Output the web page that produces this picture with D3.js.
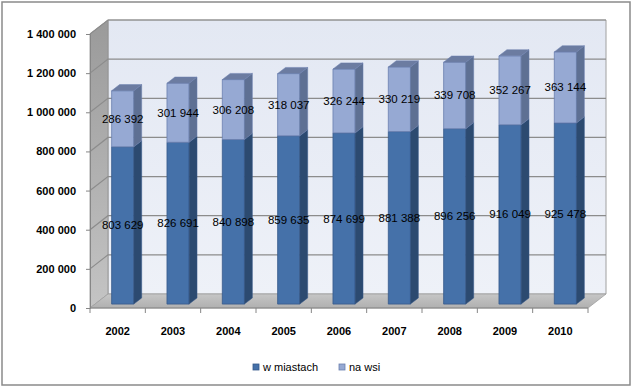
<!DOCTYPE html>
<html><head><meta charset="utf-8">
<script src="https://cdn.jsdelivr.net/npm/d3@7"></script>
<style>body{margin:0;background:#fff}svg{display:block}</style>
</head><body>
<svg id="c" width="633" height="389"></svg>
<script>
const years = ["2002","2003","2004","2005","2006","2007","2008","2009","2010"];
const miasto = [803629,826691,840898,859635,874699,881388,896256,916049,925478];
const wies = [286392,301944,306208,318037,326244,330219,339708,352267,363144];
const yTicks = [0,200000,400000,600000,800000,1000000,1200000,1400000];
const seriesNames = ["w miastach","na wsi"];

const svg = d3.select("#c");
const fmt = v => d3.format(",")(v).replace(/,/g, "\u00a0");
const font = "'Liberation Sans', Arial, sans-serif";

// frame
svg.append("rect").attr("x",2).attr("y",2).attr("width",628).attr("height",383)
  .attr("fill","#fff").attr("stroke","#8a8a8a").attr("stroke-width",1.5);

const x0 = 90, x1 = 588;
const DX = 18, DY = -14;
const x = d3.scaleBand().domain(years).range([x0, x1]).padding(0);
const y = d3.scaleLinear().domain([0,1400000]).range([308,34]);
const P = (sx, v, z) => [sx + z*DX, y(v) + z*DY];

const defs = svg.append("defs");
const lg = (id, c1, c2, x2, y2) => {
  const g = defs.append("linearGradient").attr("id", id).attr("x1",0).attr("y1",0).attr("x2",x2).attr("y2",y2);
  g.append("stop").attr("offset","0%").attr("stop-color",c1);
  g.append("stop").attr("offset","100%").attr("stop-color",c2);
};
lg("gWall","#e3e8f3","#eef1f8",0,1);
lg("gLeft","#9a9a9a","#c4c4c4",0,1);
lg("gFloor","#c6c6c6","#b0b0b0",0,1);

const poly = pts => "M" + pts.map(p => p.join(",")).join("L") + "Z";
const yTop = 1400000;

// back wall
svg.append("path").attr("d", poly([P(x0,0,1),P(x1,0,1),P(x1,yTop,1),P(x0,yTop,1)]))
  .attr("fill","url(#gWall)").attr("stroke","#a0a0a0").attr("stroke-width",1);
// left wall
svg.append("path").attr("d", poly([P(x0,0,0),P(x0,0,1),P(x0,yTop,1),P(x0,yTop,0)]))
  .attr("fill","url(#gLeft)").attr("stroke","#909090").attr("stroke-width",0.8);
// floor
svg.append("path").attr("d", poly([P(x0,0,0),P(x1,0,0),P(x1,0,1),P(x0,0,1)]))
  .attr("fill","url(#gFloor)").attr("stroke","#a0a0a0").attr("stroke-width",0.8);

// gridlines
yTicks.filter(v => v > 0).forEach(v => {
  svg.append("path").attr("d", "M" + P(x0,v,0).join(",") + "L" + P(x0,v,1).join(",") + "L" + P(x1,v,1).join(","))
    .attr("fill","none").attr("stroke","#8c8c8c").attr("stroke-width",1.2);
});

// y axis
const yAxis = svg.append("g").attr("transform", `translate(${x0},0)`)
  .call(d3.axisLeft(y).tickValues(yTicks).tickSize(4).tickPadding(10).tickFormat(fmt));
yAxis.select(".domain").attr("stroke","#868686");
yAxis.selectAll(".tick line").attr("stroke","#868686");
yAxis.selectAll("text").attr("font-family",font).attr("font-size",11).attr("font-weight","bold").attr("fill","#000");

// x axis
const xb = svg.append("g");
xb.append("line").attr("x1",x0).attr("x2",x1).attr("y1",y(0)).attr("y2",y(0)).attr("stroke","#868686");
d3.range(years.length+1).forEach(i => {
  const sx = x0 + i*x.step();
  xb.append("line").attr("x1",sx).attr("x2",sx).attr("y1",y(0)).attr("y2",y(0)+5).attr("stroke","#868686");
});
xb.selectAll("text.xl").data(years).join("text").attr("class","xl")
  .attr("x", d => x(d) + x.bandwidth()/2).attr("y", 335)
  .attr("text-anchor","middle").attr("font-family",font).attr("font-size",11).attr("font-weight","bold")
  .text(d => d);

// bars
const bw = x.bandwidth()*0.4;
const z0 = 0.28, z1 = 0.72;
const colors = [
  {front:"#4571a9", side:"#2c4a70", top:"#3b5f8e", stroke:"#36598a"},
  {front:"#96a9d3", side:"#5e7093", top:"#6c7ca1", stroke:"#6a7fae"}
];
const gBars = svg.append("g");
years.forEach((yr, i) => {
  const segs = [[0, miasto[i]], [miasto[i], miasto[i]+wies[i]]];
  const fx = x(yr) + (x.bandwidth()-bw)/2;
  segs.forEach((s, k) => {
    const c = colors[k];
    const [a, b] = s;
    // front
    gBars.append("path").attr("d", poly([P(fx,a,z0),P(fx+bw,a,z0),P(fx+bw,b,z0),P(fx,b,z0)]))
      .attr("fill",c.front).attr("stroke",c.stroke).attr("stroke-width",0.8);
    // side
    gBars.append("path").attr("d", poly([P(fx+bw,a,z0),P(fx+bw,a,z1),P(fx+bw,b,z1),P(fx+bw,b,z0)]))
      .attr("fill",c.side).attr("stroke",c.stroke).attr("stroke-width",0.5);
    if (k === 1) {
      gBars.append("path").attr("d", poly([P(fx,b,z0),P(fx+bw,b,z0),P(fx+bw,b,z1),P(fx,b,z1)]))
        .attr("fill",c.top).attr("stroke",c.stroke).attr("stroke-width",0.5);
    }
    const [lx, ly] = P(fx+bw/2, (a+b)/2, z0);
    svg.append("text").attr("x", lx).attr("y", ly).attr("dy","0.35em")
      .attr("text-anchor","middle").attr("font-family",font).attr("font-size",11.5).attr("fill","#000")
      .text(fmt(k === 0 ? miasto[i] : wies[i]));
  });
});

// legend
const leg = svg.append("g");
const legX = [253, 339];
seriesNames.forEach((n, k) => {
  leg.append("rect").attr("x", legX[k]).attr("y", 364).attr("width",6).attr("height",6)
    .attr("fill", colors[k].front).attr("stroke", colors[k].stroke).attr("stroke-width",0.8);
  leg.append("text").attr("x", legX[k]+10).attr("y", 367).attr("dy","0.35em")
    .attr("font-family",font).attr("font-size",11).attr("fill","#000").text(n);
});
</script>
</body></html>
